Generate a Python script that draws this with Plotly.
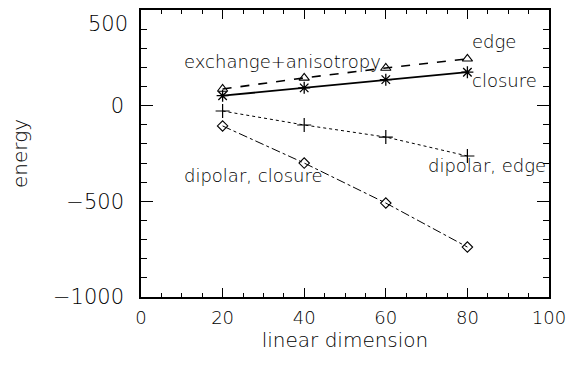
import plotly.graph_objects as go

x_vals = [20, 40, 60, 80]
edge = [87, 145, 197, 245]
closure = [52, 93, 136, 175]
dipolar_edge = [-28, -101, -164, -263]
dipolar_closure = [-106, -300, -509, -739]

x_ticks = [0, 20, 40, 60, 80, 100]
y_ticks = [-1000, -500, 0, 500]
y_tick_text = ["\u22121000", "\u2212500", "0", ""]
top_label = "500"

FONT = "DejaVu Sans"
INK = "#000000"

fig = go.Figure()
fig.add_trace(go.Scatter(x=x_vals, y=edge, mode="lines+markers",
                         line=dict(color=INK, width=1.6, dash="dash"),
                         marker=dict(symbol="triangle-up-open", size=9, color=INK, line=dict(width=1.1))))
fig.add_trace(go.Scatter(x=x_vals, y=closure, mode="lines+markers",
                         line=dict(color=INK, width=1.8),
                         marker=dict(symbol="asterisk-open", size=10, color=INK, line=dict(width=1.3))))
fig.add_trace(go.Scatter(x=x_vals, y=dipolar_edge, mode="lines+markers",
                         line=dict(color=INK, width=1.0, dash="dot"),
                         marker=dict(symbol="cross-thin-open", size=10, color=INK, line=dict(width=1.2))))
fig.add_trace(go.Scatter(x=x_vals, y=dipolar_closure, mode="lines+markers",
                         line=dict(color=INK, width=1.0, dash="dashdot"),
                         marker=dict(symbol="diamond-open", size=8, color=INK, line=dict(width=1.1))))

labels = [
    ("exchange+anisotropy", 10.0, 229),
    ("edge", 80.6, 333),
    ("closure", 80.6, 131),
    ("dipolar, edge", 69.9, -314),
    ("dipolar, closure", 10.0, -366),
]
for txt, lx, ly in labels:
    fig.add_annotation(x=lx, y=ly, text=txt, showarrow=False, xanchor="left", yanchor="middle",
                       font=dict(family=FONT, size=18, color=INK, weight=300))

# top y tick label, nudged inside the page as in the reference
fig.add_annotation(x=0, xref="paper", y=y_ticks[-1], yref="y", text=top_label, showarrow=False,
                   xanchor="right", yanchor="top", xshift=-11, yshift=0,
                   font=dict(family=FONT, size=21, color=INK, weight=300))

axis_common = dict(showgrid=False, zeroline=False, showline=True, linecolor=INK, linewidth=1.5,
                   mirror="allticks", ticks="inside", tickcolor=INK, tickwidth=1.2, automargin=False,
                   ticklabeloverflow="allow")

fig.update_xaxes(range=[0, 100], tickvals=x_ticks, ticklen=9, ticklabelstandoff=4,
                 tickfont=dict(family=FONT, size=18, color=INK, weight=300),
                 minor=dict(dtick=5, ticks="inside", ticklen=4, tickcolor=INK, tickwidth=1),
                 title=dict(text="linear dimension", font=dict(family=FONT, size=20, color=INK, weight=300), standoff=5),
                 **axis_common)
fig.update_yaxes(range=[-1000, 500], tickvals=y_ticks, ticktext=y_tick_text, ticklen=12, ticklabelstandoff=11,
                 tickfont=dict(family=FONT, size=21, color=INK, weight=300),
                 minor=dict(dtick=100, ticks="inside", ticklen=6, tickcolor=INK, tickwidth=1),
                 title=dict(text="energy", font=dict(family=FONT, size=20, color=INK, weight=300), standoff=20),
                 **axis_common)

fig.update_layout(width=558, height=349, margin=dict(l=133, r=17, t=2, b=60),
                  plot_bgcolor="white", paper_bgcolor="white", showlegend=False)

fig.write_html("out.html")
